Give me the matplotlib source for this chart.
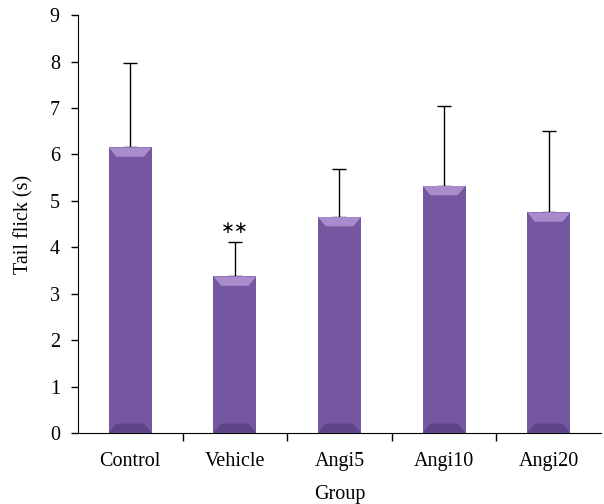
import numpy as np
import matplotlib
matplotlib.use("Agg")
import matplotlib.pyplot as plt
from matplotlib.patches import Polygon

plt.rcParams['font.family'] = ['Liberation Serif', 'DejaVu Serif']

groups = ['Control', 'Vehicle', 'Angi5', 'Angi10', 'Angi20']
means = [6.15, 3.37, 4.65, 5.32, 4.75]
errors = [1.82, 0.75, 1.03, 1.72, 1.75]
marks = ['', '**', '', '', '']

BAR_COLOR = '#7556a0'
TOP_COLOR = '#a88ccc'
BOT_COLOR = '#5f4387'

fig = plt.figure(figsize=(6.04, 5.04), dpi=100)
ax = fig.add_axes([0.129, 0.141, 0.866, 0.829])

x = np.arange(len(groups))
width = 0.41
ax.bar(x, means, width=width, color=BAR_COLOR, edgecolor='none', zorder=2)
ax.errorbar(x, means, yerr=[np.zeros(len(means)), errors], fmt='none',
            ecolor='black', elinewidth=1, capsize=5, capthick=1, zorder=1)

# bevel on top and bottom of each bar
bev = 0.2
for xi, m in zip(x, means):
    l, r = xi - width / 2, xi + width / 2
    inset = width * 0.18
    ax.add_patch(Polygon([(l, m), (r, m), (r - inset, m - bev), (l + inset, m - bev)],
                         closed=True, color=TOP_COLOR, lw=0, zorder=3))
    ax.add_patch(Polygon([(l, 0), (r, 0), (r - inset, bev), (l + inset, bev)],
                         closed=True, color=BOT_COLOR, lw=0, zorder=3))

for xi, m, e, s in zip(x, means, errors, marks):
    if s:
        ax.text(xi, m + e + 0.1, '\u2217\u2217', ha='center', va='bottom', fontsize=12,
                family=['DejaVu Sans'])

ax.set_xlim(-0.5, len(groups) - 0.5)
ax.set_ylim(0, 9)
ax.set_yticks(range(0, 10))
ax.set_xticks(x)
ax.set_xticklabels(groups, fontsize=14.5)
ax.set_xticks(np.arange(0.5, len(groups) - 0.5, 1), minor=True)
ax.tick_params(axis='x', which='major', length=0, pad=14)
ax.tick_params(axis='x', which='minor', length=6, width=1, direction='out')
ax.tick_params(axis='y', length=5, width=1, direction='out', labelsize=14.5, pad=8)
ax.spines['top'].set_visible(False)
ax.spines['right'].set_visible(False)
ax.set_xlabel('Group', fontsize=14.5, labelpad=10)
ax.set_ylabel('Tail flick (s)', fontsize=14.5, labelpad=12)

fig.savefig('out.png', dpi=100)
